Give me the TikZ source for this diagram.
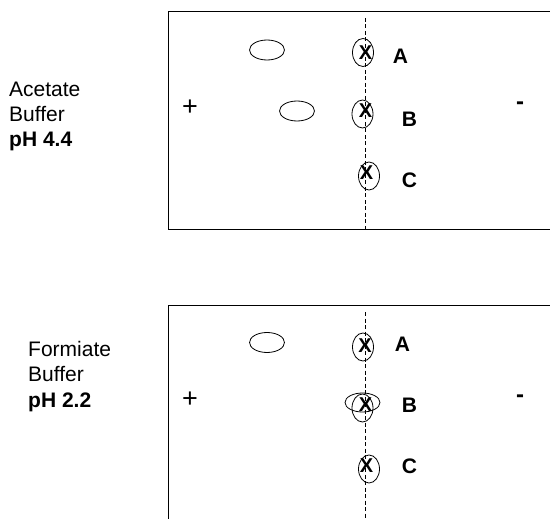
\documentclass[tikz,border=0pt]{standalone}
\usepackage{fontspec}
\setmainfont{Liberation Sans}
\usetikzlibrary{shapes.geometric}

\tikzset{
  spot/.style={draw, ellipse, line width=0.8pt, inner sep=0pt, minimum width=35pt, minimum height=20pt},
  origin/.style={draw, ellipse, line width=0.8pt, inner sep=0pt, minimum width=21pt, minimum height=28pt},
  cross/.style={font=\fontsize{20}{20}\selectfont\bfseries, inner sep=0pt},
  lanelabel/.style={font=\fontsize{21}{21}\selectfont\bfseries, inner sep=0pt},
  pole/.style={font=\fontsize{27}{27}\selectfont, inner sep=0pt},
  buffer/.style={align=left, font=\fontsize{21}{25.3}\selectfont, inner sep=0pt, anchor=west},
  startline/.style={line width=0.8pt, dash pattern=on 4pt off 2.5pt}
}

\begin{document}
\begin{tikzpicture}[x=1pt, y=-1pt]
  \useasboundingbox (0, 0) rectangle (550, 519);
  \clip (0, 0) rectangle (550, 519);

  % acetate buffer, pH 4.4
  \node[buffer] (acetate) at (9, 116.5) {Acetate\\Buffer\\\textbf{pH 4.4}};
  \draw[line width=1pt] (168, 12) rectangle (560, 230);
  \draw[startline] (365.5, 18) -- (365.5, 230);
  \node[pole] (plus1) at (190, 108) {+};
  \node[pole, font=\fontsize{24}{24}\selectfont\bfseries] (minus1) at (520, 106) {-};

  \node[spot] (spotA1) at (267, 50) {};
  \node[spot] (spotB1) at (297, 111) {};
  \node[origin] (orA1) at (363, 52.5) {};
  \node[origin] (orB1) at (362.5, 114) {};
  \node[origin] (orC1) at (369, 176) {};
  \node[cross] (xA1) at (365.5, 53) {X};
  \node[cross] (xB1) at (365.5, 111) {X};
  \node[cross] (xC1) at (366.5, 172.5) {X};
  \node[lanelabel] (A1) at (400.5, 56.5) {A};
  \node[lanelabel] (B1) at (409.5, 119) {B};
  \node[lanelabel] (C1) at (409.5, 180) {C};

  % formiate buffer, pH 2.2
  \node[buffer] (formiate) at (28, 376.5) {Formiate\\Buffer\\\textbf{pH 2.2}};
  \draw[line width=1pt] (168, 305) rectangle (560, 530);
  \draw[startline] (365.5, 312) -- (365.5, 519);
  \node[pole] (plus2) at (190, 400) {+};
  \node[pole, font=\fontsize{24}{24}\selectfont\bfseries] (minus2) at (520, 399) {-};

  \node[spot] (spotA2) at (267, 342.5) {};
  \node[spot, minimum height=19pt] (spotB2) at (362.5, 402.5) {};
  \node[origin] (orA2) at (363, 347) {};
  \node[origin] (orB2) at (362.5, 408) {};
  \node[origin] (orC2) at (369, 469) {};
  \node[cross] (xA2) at (365, 346) {X};
  \node[cross] (xB2) at (365.5, 404.5) {X};
  \node[cross] (xC2) at (366.5, 465.5) {X};
  \node[lanelabel] (A2) at (402.5, 344) {A};
  \node[lanelabel] (B2) at (409.5, 405) {B};
  \node[lanelabel] (C2) at (409.5, 466.5) {C};
\end{tikzpicture}
\end{document}
